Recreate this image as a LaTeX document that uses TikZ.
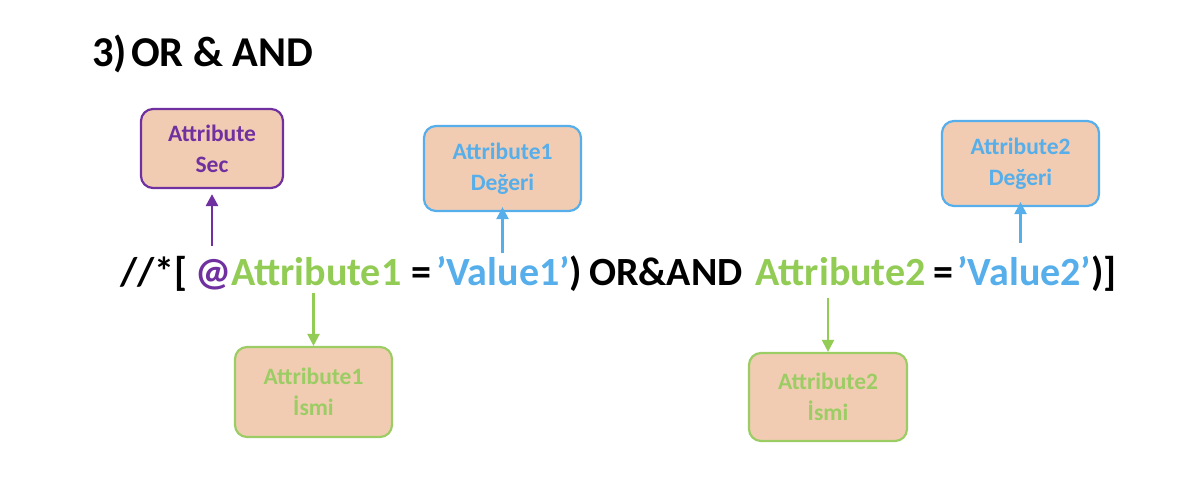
\documentclass[tikz,border=0pt]{standalone}
\usepackage{fontspec}
\setmainfont{Carlito}
\usetikzlibrary{arrows.meta}
\definecolor{cpurple}{RGB}{112,48,160}
\definecolor{cgreen}{RGB}{146,204,84}
\definecolor{cgreenbox}{RGB}{155,205,100}
\definecolor{cblue}{RGB}{86,174,234}
\definecolor{cpeach}{RGB}{241,204,178}
\tikzset{
  seg/.style={inner sep=0pt, outer sep=0pt, anchor=base west, font=\fontsize{40}{48}\selectfont\bfseries},
  ttl/.style={inner sep=0pt, outer sep=0pt, anchor=base west, font=\fontsize{42.5}{48}\selectfont\bfseries},
  box/.style={draw, line width=2.2pt, rounded corners=12pt, fill=cpeach, align=center,
              font=\fontsize{23.5}{31}\selectfont\bfseries, inner sep=0pt},
  arr/.style={line width=2.2pt, -{Triangle[width=12pt,length=12pt]}},
}
\begin{document}
\begin{tikzpicture}[x=1pt,y=-1pt]
\useasboundingbox[fill=white] (0,0) rectangle (1190,484);
% title
\node[ttl] (t1) at (92,67) {3)};
\node[ttl] (t2) at (131,67) {OR \& AND};
% formula
\node[seg] (s1) at (120,285) {//*[\hspace*{8pt}\null};
\node[seg, text=cpurple] (at) at (s1.base east) {@};
\node[seg, text=cgreen] (a1) at (at.base east) {Attribute1};
\node[seg] (s2) at (a1.base east) {\hspace*{10pt}=\hspace*{5pt}\null};
\node[seg, text=cblue] (v1) at (s2.base east) {’Value1’};
\node[seg] (s3) at (v1.base east) {)\hspace*{7pt}OR\&AND\hspace*{13pt}\null};
\node[seg, text=cgreen] (a2) at (s3.base east) {Attribute2};
\node[seg] (s4) at (a2.base east) {\hspace*{8pt}=\hspace*{4pt}\null};
\node[seg, text=cblue] (v2) at (s4.base east) {’Value2’};
\node[seg] (s5) at (v2.base east) {)]};
% boxes
\node[box, draw=cpurple, text=cpurple, minimum width=142pt, minimum height=79pt] (sec) at (212,148.5) {Attribute\\Sec};
\node[box, draw=cblue, text=cblue, minimum width=157pt, minimum height=85pt] (d1) at (502.5,168.5) {Attribute1\\Değeri};
\node[box, draw=cblue, text=cblue, minimum width=157pt, minimum height=85pt] (d2) at (1020.5,163.5) {Attribute2\\Değeri};
\node[box, draw=cgreenbox, text=cgreenbox, minimum width=157pt, minimum height=90pt] (i1) at (313.5,392) {Attribute1\\İsmi};
\node[box, draw=cgreenbox, text=cgreenbox, minimum width=158pt, minimum height=88pt] (i2) at (828,397) {Attribute2\\İsmi};
% arrow start points
\coordinate (ps) at (sec.south |- 0,246);
\coordinate (pd1) at (d1.south |- 0,253);
\coordinate (pd2) at (d2.south |- 0,243);
\coordinate (pi1) at (i1.north |- 0,293);
\coordinate (pi2) at (i2.north |- 0,298);
\draw[arr, cpurple, line width=2.8pt, shorten >=5pt] (ps) -- (sec.south);
\draw[arr, cblue, shorten >=-5pt] (pd1) -- (d1.south);
\draw[arr, cblue, shorten >=-5pt] (pd2) -- (d2.south);
\draw[arr, cgreen] (pi1) -- (i1.north);
\draw[arr, cgreen] (pi2) -- (i2.north);
\end{tikzpicture}
\end{document}
